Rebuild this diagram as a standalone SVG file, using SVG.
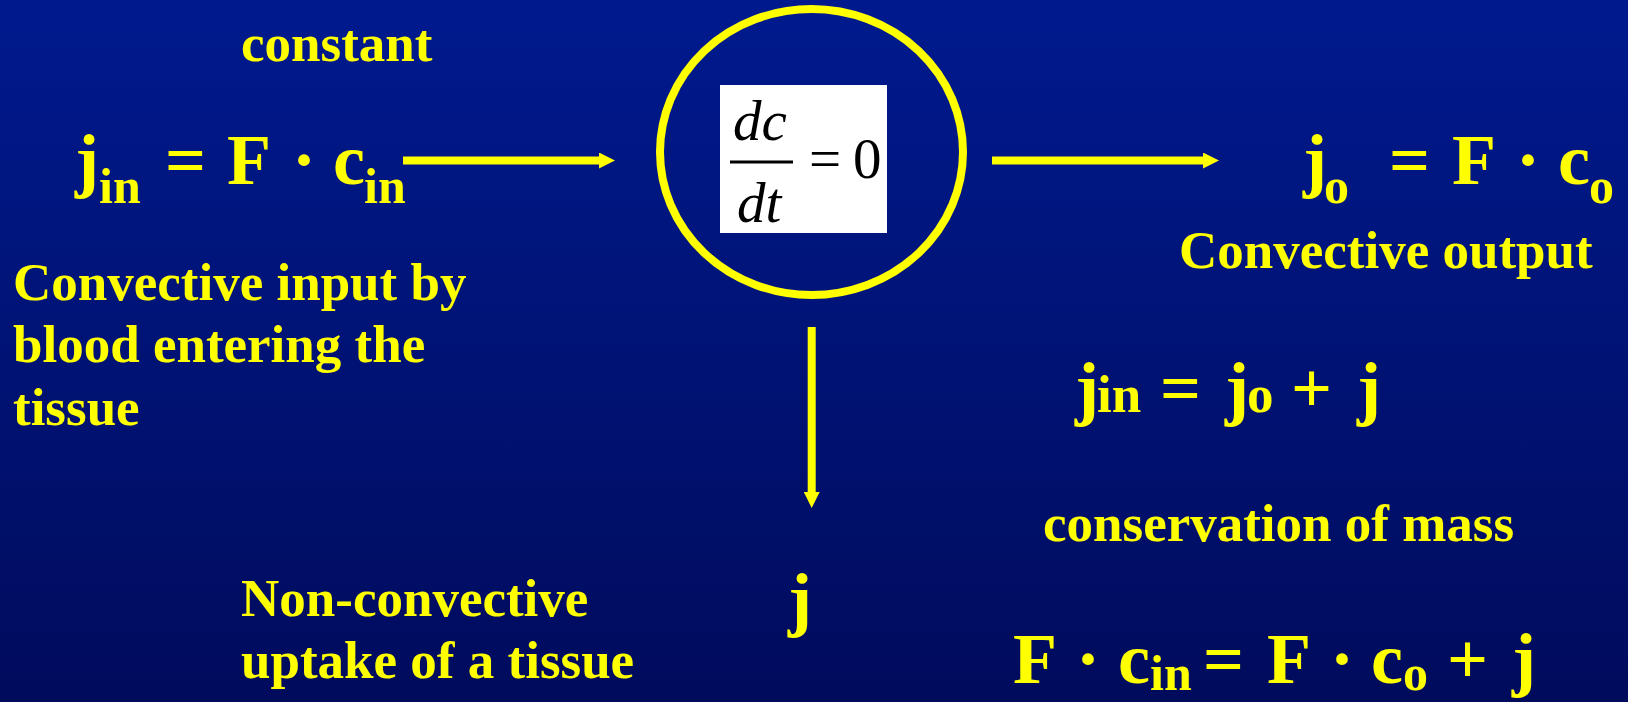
<svg xmlns="http://www.w3.org/2000/svg" width="1628" height="702" viewBox="0 0 1628 702">
  <defs>
    <linearGradient id="bg" x1="0" y1="0" x2="0" y2="1">
      <stop offset="0" stop-color="#001a8e"/>
      <stop offset="1" stop-color="#000b5c"/>
    </linearGradient>
    <marker id="head" viewBox="0 0 16 16" refX="0" refY="8" markerWidth="16" markerHeight="16" markerUnits="userSpaceOnUse" orient="auto">
      <path d="M0,0 L16,8 L0,16 z" fill="#ffff00"/>
    </marker>
    <style>
      .y { fill: #ffff00; font-family: "Liberation Serif", "Times New Roman", serif; font-weight: bold; }
      .big { font-size: 72px; }
      .sub { font-size: 50px; }
      .lbl { font-size: 53px; }
      .conn { stroke: #ffff00; stroke-width: 8; fill: none; marker-end: url(#head); }
      .m { fill: #000000; font-family: "Liberation Serif", "Times New Roman", serif; font-size: 57px; }
    </style>
  </defs>
  <rect x="0" y="0" width="1628" height="702" fill="url(#bg)"/>

  <g id="top-label">
    <text class="y lbl" x="241" y="61">constant</text>
  </g>

  <g id="tissue">
    <ellipse cx="811.5" cy="152" rx="151.5" ry="143" fill="none" stroke="#ffff00" stroke-width="8"/>
    <rect x="720" y="85" width="167" height="148" fill="#ffffff"/>
    <text class="m" font-style="italic" x="733" y="140">dc</text>
    <line x1="730" y1="162" x2="793" y2="162" stroke="#000000" stroke-width="3"/>
    <text class="m" font-style="italic" x="737" y="222">dt</text>
    <text class="m" x="809" y="178">=</text>
    <text class="m" x="853" y="178">0</text>
  </g>

  <g id="input">
    <text class="y big" x="75" y="184">j</text>
    <text class="y sub" x="99" y="203">in</text>
    <text class="y big" x="165" y="184">=</text>
    <text class="y big" x="227" y="184">F</text>
    <text class="y big" x="292" y="184">·</text>
    <text class="y big" x="333" y="184">c</text>
    <text class="y sub" x="364" y="203">in</text>
    <text class="y lbl" x="13" y="300">Convective input by</text>
    <text class="y lbl" x="13" y="362">blood entering the</text>
    <text class="y lbl" x="13" y="425">tissue</text>
  </g>

  <g id="output">
    <text class="y big" x="1303" y="184">j</text>
    <text class="y sub" x="1324" y="203">o</text>
    <text class="y big" x="1389" y="184">=</text>
    <text class="y big" x="1452" y="184">F</text>
    <text class="y big" x="1516" y="184">·</text>
    <text class="y big" x="1558" y="184">c</text>
    <text class="y sub" x="1589" y="203">o</text>
    <text class="y lbl" x="1179" y="268">Convective output</text>
  </g>

  <g id="uptake">
    <text class="y big" x="788" y="623">j</text>
    <text class="y lbl" x="241" y="616">Non-convective</text>
    <text class="y lbl" x="241" y="678">uptake of a tissue</text>
  </g>

  <g id="balance">
    <text class="y big" x="1075" y="412">j</text>
    <text class="y lbl" x="1097" y="412">in</text>
    <text class="y big" x="1160" y="412">=</text>
    <text class="y big" x="1225" y="412">j</text>
    <text class="y lbl" x="1247" y="412">o</text>
    <text class="y big" x="1291" y="412">+</text>
    <text class="y big" x="1357" y="412">j</text>
    <text class="y lbl" x="1043" y="541">conservation of mass</text>
  </g>

  <g id="mass-equation">
    <text class="y big" x="1013" y="683">F</text>
    <text class="y big" x="1076" y="683">·</text>
    <text class="y big" x="1118" y="683">c</text>
    <text class="y sub" x="1150" y="690">in</text>
    <text class="y big" x="1203" y="683">=</text>
    <text class="y big" x="1267" y="683">F</text>
    <text class="y big" x="1330" y="683">·</text>
    <text class="y big" x="1371" y="683">c</text>
    <text class="y sub" x="1403" y="690">o</text>
    <text class="y big" x="1447" y="683">+</text>
    <text class="y big" x="1512" y="683">j</text>
  </g>

  <g id="connectors">
    <line class="conn" x1="403" y1="160.5" x2="599" y2="160.5"/>
    <line class="conn" x1="992" y1="160.5" x2="1203" y2="160.5"/>
    <line class="conn" x1="811.7" y1="327" x2="811.7" y2="492"/>
  </g>
</svg>
